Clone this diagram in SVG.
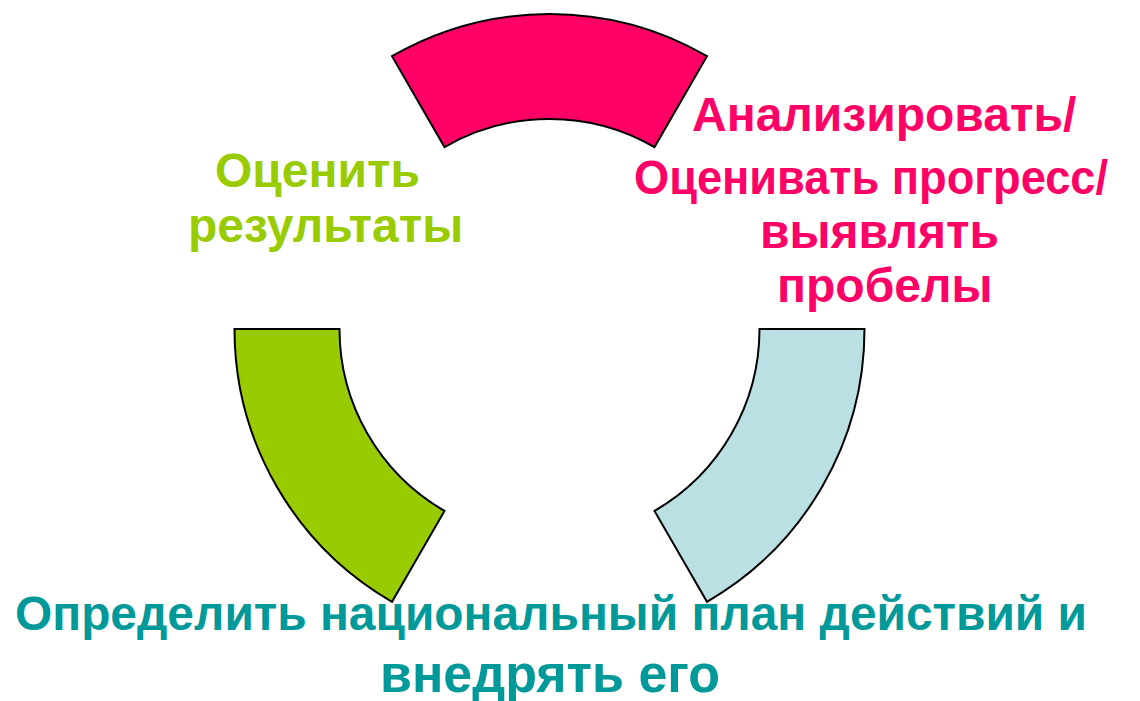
<svg xmlns="http://www.w3.org/2000/svg" width="1140" height="701" viewBox="0 0 1140 701">
<style>
.seg{stroke:#000;stroke-width:2;stroke-linejoin:miter}
.t{font-family:"Liberation Sans",Arial,sans-serif;font-weight:bold;font-size:48px}
</style>
<rect width="1140" height="701" fill="#fff"/>
<g id="connectors"></g>
<g id="analyze">
<path class="seg" fill="#FF0066" d="M392,56.2 A315,315 0 0 1 707,56.2 L654.5,147.1 A210,210 0 0 0 444.5,147.1 Z"/>
<text class="t" fill="#FF0066"><tspan x="692" y="131">Анализировать/</tspan></text>
<text class="t" fill="#FF0066" x="634" y="194" textLength="474" lengthAdjust="spacingAndGlyphs">Оценивать прогресс/</text>
<text class="t" fill="#FF0066"><tspan x="760" y="248">выявлять</tspan><tspan x="777" y="302">пробелы</tspan></text>
</g>
<g id="implement">
<path class="seg" fill="#BBE0E3" d="M759.5,329 L864.5,329 A315,315 0 0 1 707,601.8 L654.5,510.9 A210,210 0 0 0 759.5,329 Z"/>
<text class="t" fill="#009999" x="15" y="630" textLength="1072" lengthAdjust="spacingAndGlyphs">Определить национальный план действий и</text>
<text class="t" fill="#009999" x="380" y="692" style="font-size:53px" textLength="340" lengthAdjust="spacingAndGlyphs">внедрять его</text>
</g>
<g id="evaluate">
<path class="seg" fill="#99CC00" d="M234.5,329 A315,315 0 0 0 392,601.8 L444.5,510.9 A210,210 0 0 1 339.5,329 Z"/>
<text class="t" fill="#99CC00"><tspan x="215" y="187">Оценить</tspan><tspan x="188" y="242">результаты</tspan></text>
</g>
</svg>
